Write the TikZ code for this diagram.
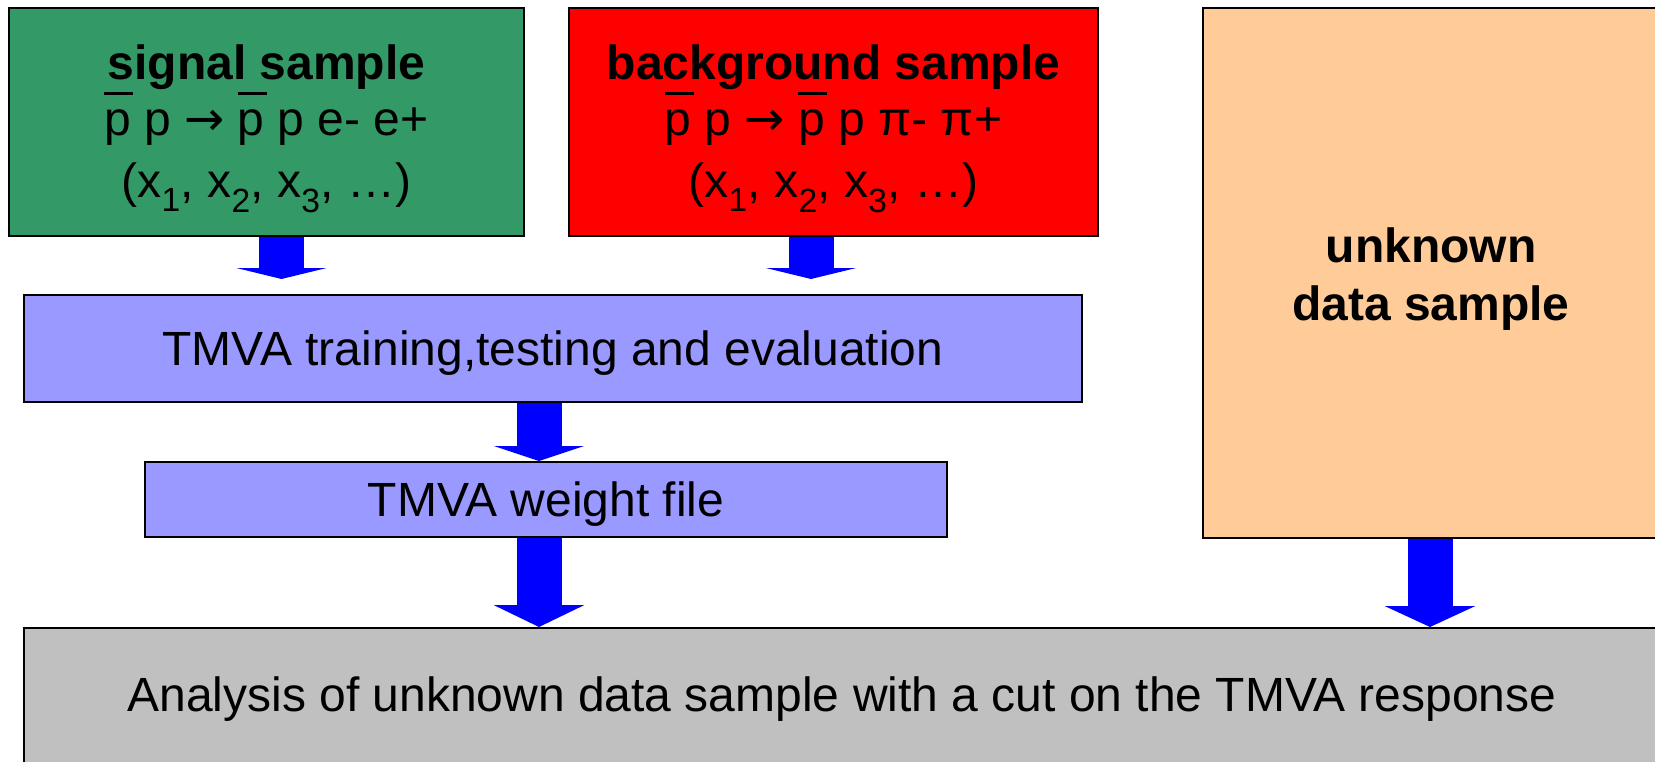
\documentclass[tikz,border=0pt]{standalone}
\usepackage{fontspec}
\setmainfont{Liberation Sans}
\newfontfamily\arrowfont{DejaVu Sans}
\usetikzlibrary{arrows.meta,positioning}

\definecolor{sigcol}{RGB}{51,153,102}
\definecolor{bkgcol}{RGB}{255,0,0}
\definecolor{unkcol}{RGB}{255,204,153}
\definecolor{tmvacol}{RGB}{153,153,255}
\definecolor{anacol}{RGB}{192,192,192}
\newcommand{\pbar}{\leavevmode\rlap{\rule[0.84em]{0.6em}{0.065em}}p}
\newcommand{\goesto}{{\arrowfont →}}

\begin{document}
\begin{tikzpicture}[x=1pt,y=-1pt,
box/.style={rectangle, draw=black, line width=2pt, inner sep=0pt, align=center,
  font=\fontsize{48}{62}\selectfont},
flow/.style={draw=blue, line width=45pt, -{Triangle[width=90pt,length=#1]}},
flow/.default=12pt]
\clip (0,0) rectangle (1655,761);
% Nodes
\node[box, fill=sigcol, minimum width=515, minimum height=228] (sig) at (266.5,122)
  {\rule{0pt}{48pt}\textbf{signal sample}\\[-6pt] \pbar\ p \goesto\ \pbar\ p e- e+\\ (x\textsubscript{1}, x\textsubscript{2}, x\textsubscript{3}, …)};
\node[box, fill=bkgcol, minimum width=529, minimum height=228] (bkg) at (833.5,122)
  {\rule{0pt}{48pt}\textbf{background sample}\\[-6pt] \pbar\ p \goesto\ \pbar\ p π- π+\\ (x\textsubscript{1}, x\textsubscript{2}, x\textsubscript{3}, …)};
\node[box, fill=unkcol, minimum width=456, minimum height=530] (unk) at (1431,272.5)
  {\rule{0pt}{47pt}\textbf{unknown}\\[-4pt] \textbf{data sample}};
\node[box, fill=tmvacol, minimum width=1058, minimum height=107, text depth=0pt] (tr) at (553,348.5)
  {TMVA training,testing and evaluation};
\node[box, fill=tmvacol, minimum width=802, minimum height=75, text depth=0pt] (wf) at (546,499.5)
  {TMVA weight file};
\node[box, fill=anacol, minimum width=1636, minimum height=142] (ana) at (842,699)
  {Analysis of unknown data sample with a cut on the TMVA response};
% Lines
\draw[flow=11pt] ([xshift=15pt]sig.south) -- ([xshift=15pt]sig.south |- tr.north) [shorten >=15pt];
\draw[flow=11pt] ([xshift=-22.5pt]bkg.south) -- ([xshift=-22.5pt]bkg.south |- tr.north) [shorten >=15pt];
\draw[flow=15pt] ([xshift=-14pt]tr.south) -- ([xshift=-7pt]wf.north);
\draw[flow=22pt] ([xshift=-7pt]wf.south) -- ([xshift=-7pt]wf.south |- ana.north);
\draw[flow=21pt] ([xshift=-1pt]unk.south) -- ([xshift=-1pt]unk.south |- ana.north);
\end{tikzpicture}
\end{document}
